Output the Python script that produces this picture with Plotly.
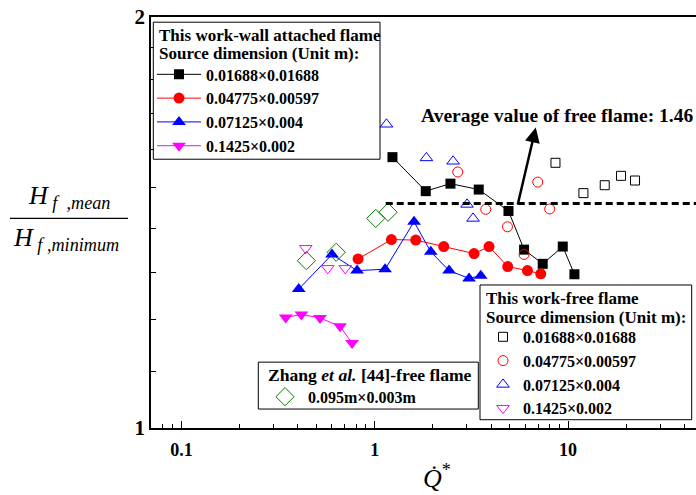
import numpy as np
import plotly.graph_objects as go

# ---------------- data ----------------
# This work - wall attached flame (filled markers, connected)
wall_sq_x = [1.235, 1.836, 2.464, 3.451, 4.918, 5.923, 7.396, 9.39, 10.79]
wall_sq_y = [1.579, 1.491, 1.510, 1.495, 1.442, 1.351, 1.319, 1.358, 1.296]
wall_ci_x = [0.820, 1.220, 1.630, 2.275, 3.265, 3.902, 4.875, 6.166, 7.225]
wall_ci_y = [1.330, 1.374, 1.373, 1.358, 1.342, 1.358, 1.313, 1.304, 1.297]
wall_tu_x = [0.4044, 0.601, 0.810, 1.131, 1.597, 1.949, 2.424, 3.075, 3.535]
wall_tu_y = [1.264, 1.340, 1.304, 1.307, 1.416, 1.346, 1.304, 1.287, 1.293]
wall_td_x = [0.3464, 0.4175, 0.521, 0.6614, 0.763]
wall_td_y = [1.205, 1.211, 1.204, 1.187, 1.154]

# This work - free flame (open markers)
free_sq_x = [8.61, 12.01, 15.48, 18.80, 22.21]
free_sq_y = [1.564, 1.486, 1.506, 1.530, 1.518]
free_ci_x = [2.688, 3.752, 4.860, 5.923, 6.971, 8.04]
free_ci_y = [1.540, 1.446, 1.404, 1.340, 1.514, 1.447]
free_tu_x = [1.150, 1.851, 2.542, 3.002, 3.225]
free_tu_y = [1.669, 1.577, 1.568, 1.458, 1.424]
free_td_x = [0.4395, 0.5713, 0.7038]
free_td_y = [1.354, 1.309, 1.309]

# Zhang et al. [44] free flame
zhang_x = [0.443, 0.632, 1.012, 1.172]
zhang_y = [1.326, 1.345, 1.424, 1.439]

avg_free = 1.46
avg_line_x = [1.14, 60.0]

labels = ["0.01688×0.01688", "0.04775×0.00597", "0.07125×0.004", "0.1425×0.002"]
colors = ["black", "#ff0000", "#0000ff", "#ff00ff"]

x_major = [0.1, 1, 10]
x_minor = [0.08, 0.09] + [i * 0.1 for i in range(2, 10)] + list(range(2, 10)) + [20, 30, 40, 50]
y_major = [1, 2]
y_minor = [1.1, 1.2, 1.3, 1.4, 1.5, 1.6, 1.7, 1.8, 1.9]

FONT = "Liberation Serif"

fig = go.Figure()

wall_sets = [(wall_sq_x, wall_sq_y, "square", 10),
             (wall_ci_x, wall_ci_y, "circle", 11),
             (wall_tu_x, wall_tu_y, "triangle-up", 12),
             (wall_td_x, wall_td_y, "triangle-down", 12)]
for (xs, ys, sym, sz), lab, col in zip(wall_sets, labels, colors):
    fig.add_trace(go.Scatter(x=xs, y=ys, mode="lines+markers", name=lab,
                             line=dict(color=col, width=1),
                             marker=dict(symbol=sym, size=sz, color=col),
                             legend="legend"))

free_sets = [(free_sq_x, free_sq_y, "square-open", 9),
             (free_ci_x, free_ci_y, "circle-open", 10),
             (free_tu_x, free_tu_y, "triangle-up-open", 11),
             (free_td_x, free_td_y, "triangle-down-open", 11)]
for (xs, ys, sym, sz), lab, col in zip(free_sets, labels, colors):
    fig.add_trace(go.Scatter(x=xs, y=ys, mode="markers", name=lab,
                             marker=dict(symbol=sym, size=sz, color=col,
                                         line=dict(width=1, color=col)),
                             legend="legend2"))

fig.add_trace(go.Scatter(x=zhang_x, y=zhang_y, mode="markers", name="0.095m×0.003m",
                         marker=dict(symbol="diamond-open", size=14, color="#008000",
                                     line=dict(width=1, color="#008000")),
                         legend="legend3"))

fig.add_trace(go.Scatter(x=avg_line_x, y=[avg_free, avg_free], mode="lines",
                         line=dict(color="black", width=3, dash="7px,4px"),
                         showlegend=False, hoverinfo="skip"))

L, R, T, B = 151, 0, 16.5, 66.7
W, H = 696, 495
plot_w = W - L - R
plot_h = H - B - T
decade = 193.3
x0 = -1.1575
x1 = x0 + plot_w / decade


def px2paper_x(px):
    return (px - L) / plot_w


def px2paper_y(py):
    return (H - B - py) / plot_h


entry_font = dict(family=FONT, size=16, color="black", weight="bold")
title_font = dict(family=FONT, size=17, color="black", weight="bold")
clear = "rgba(0,0,0,0)"


def leg(left_px, top_px, itemwidth=30):
    return dict(x=px2paper_x(left_px), y=px2paper_y(top_px), xanchor="left", yanchor="top",
                borderwidth=0, bgcolor=clear, font=entry_font, tracegroupgap=0,
                itemwidth=itemwidth)


fig.update_layout(
    width=W, height=H,
    margin=dict(l=L, r=R, t=T, b=B),
    paper_bgcolor="white", plot_bgcolor="white",
    font=dict(family=FONT, color="black"),
    xaxis=dict(type="log", range=[x0, x1], showgrid=False, zeroline=False,
               showline=True, linecolor="black", linewidth=1.5, mirror=True,
               ticks="inside", ticklen=7, tickwidth=1, tickcolor="black",
               tickvals=x_major, ticktext=["0.1", "1", "10"],
               tickfont=dict(family=FONT, size=18, color="black", weight="bold"),
               ticklabelstandoff=5,
               minor=dict(tickvals=x_minor, ticks="inside", ticklen=4, tickwidth=1,
                          tickcolor="black", showgrid=False)),
    yaxis=dict(type="log", range=[0, np.log10(2)], showgrid=False, zeroline=False,
               showline=True, linecolor="black", linewidth=1.5, mirror=False,
               ticks="inside", ticklen=7, tickwidth=1, tickcolor="black",
               tickvals=y_major, ticktext=["1", "2"],
               tickfont=dict(family=FONT, size=21, color="black", weight="bold"),
               minor=dict(tickvals=y_minor, ticks="inside", ticklen=5, tickwidth=1,
                          tickcolor="black", showgrid=False)),
    legend=leg(152, 57, itemwidth=44),
    legend2=leg(483, 320),
    legend3=leg(262, 380, itemwidth=36),
)

# legend boxes and titles
boxes = [(153.3, 21.7, 380, 159), (480, 285, 691.7, 420), (258.3, 362.3, 478.3, 409.3)]
for bx0, by0, bx1, by1 in boxes:
    fig.add_shape(type="rect", xref="paper", yref="paper", layer="above",
                  x0=px2paper_x(bx0), x1=px2paper_x(bx1), y0=px2paper_y(by0), y1=px2paper_y(by1),
                  line=dict(color="black", width=1), fillcolor="white")

titles = [("This work-wall attached flame", 158, 35, 17),
          ("Source dimension (Unit m):", 158, 53.3, 17),
          ("This work-free flame", 485, 298.3, 17),
          ("Source dimension (Unit m):", 485, 317.7, 17),
          ("Zhang <i>et al.</i> [44]-free flame", 267, 375, 17.6)]
for txt, tx, ty, fs in titles:
    fig.add_annotation(x=px2paper_x(tx), y=px2paper_y(ty), xref="paper", yref="paper",
                       xanchor="left", yanchor="middle", showarrow=False, text=txt,
                       font=dict(title_font, size=fs), borderpad=0)

# Average value annotation text
fig.add_annotation(x=(419.3 - 375) / decade, y=(428.3 - 115) / 1368,
                   xref="x", yref="y", xanchor="left", yanchor="middle",
                   text="Average value of free flame: 1.46", showarrow=False,
                   font=dict(family=FONT, size=19.5, color="black", weight="bold"))
# Arrow
fig.add_annotation(x=np.log10(6.81), y=np.log10(1.66), ax=np.log10(5.47), ay=np.log10(1.454),
                   xref="x", yref="y", axref="x", ayref="y", text="", showarrow=True,
                   arrowhead=2, arrowsize=1.2, arrowwidth=2.5, arrowcolor="black")

# Y axis title as fraction
fig.add_annotation(x=px2paper_x(69), y=px2paper_y(215), xref="paper", yref="paper",
                   xanchor="center", yanchor="bottom", showarrow=False,
                   text="<i>H</i><sub><i>&nbsp;f&nbsp;&nbsp;,mean</i></sub>",
                   font=dict(family=FONT, size=26, color="black"))
fig.add_annotation(x=px2paper_x(66), y=px2paper_y(221), xref="paper", yref="paper",
                   xanchor="center", yanchor="top", showarrow=False,
                   text="<i>H</i><sub><i>&nbsp;f ,minimum</i></sub>",
                   font=dict(family=FONT, size=26, color="black"))
fig.add_shape(type="line", xref="paper", yref="paper",
              x0=px2paper_x(10), x1=px2paper_x(128), y0=px2paper_y(218.3), y1=px2paper_y(218.3),
              line=dict(color="black", width=1.2))

# X axis title
fig.add_annotation(x=px2paper_x(437), y=px2paper_y(477), xref="paper", yref="paper",
                   xanchor="center", yanchor="middle", showarrow=False,
                   text="<i>Q\u0307</i><sup>*</sup>",
                   font=dict(family=FONT, size=26, color="black"))

fig.write_html("out.html")
